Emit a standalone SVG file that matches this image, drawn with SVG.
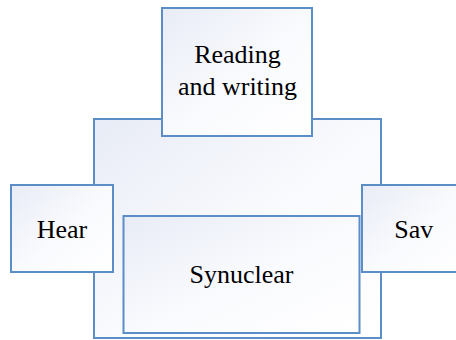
<svg xmlns="http://www.w3.org/2000/svg" width="456" height="340" viewBox="0 0 456 340">
<defs>
<linearGradient id="g" x1="0" y1="0" x2="1" y2="1">
<stop offset="0" stop-color="#e8ecf6"/>
<stop offset="0.55" stop-color="#fafbfe"/>
<stop offset="1" stop-color="#ffffff"/>
</linearGradient>
</defs>
<style>
.box{fill:url(#g);stroke:#5b8dc6;stroke-width:2}
.t{font-family:"Liberation Serif","Times New Roman",serif;font-size:26px;fill:#000;text-anchor:middle}
</style>
<rect width="456" height="340" fill="#ffffff"/>
<g id="connectors"></g>
<g id="outer"><rect class="box" x="94" y="119" width="287" height="219"/></g>
<g id="reading"><rect class="box" x="162" y="8" width="150" height="128"/>
<text class="t" x="237.5" y="63">Reading</text>
<text class="t" x="237.5" y="95">and writing</text></g>
<g id="hear"><rect class="box" x="11" y="185" width="102" height="87"/>
<text class="t" x="62" y="238">Hear</text></g>
<g id="sav"><rect class="box" x="362" y="185" width="104" height="87"/>
<text class="t" x="413.7" y="238">Sav</text></g>
<g id="synuclear"><rect class="box" x="123.5" y="216" width="236" height="117"/>
<text class="t" x="241.5" y="283">Synuclear</text></g>
</svg>
